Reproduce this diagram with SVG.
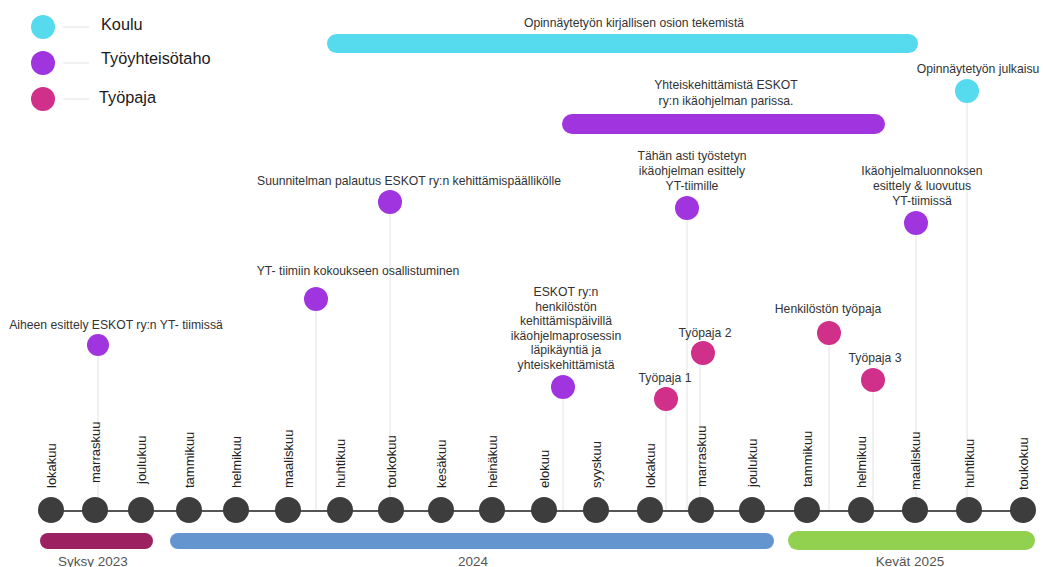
<svg xmlns="http://www.w3.org/2000/svg" width="1043" height="567" viewBox="0 0 1043 567">
<style>
text{font-family:"Liberation Sans",Arial,sans-serif;fill:#333}
.ev{font-size:12.2px;text-anchor:middle}
.mo{font-size:13px;fill:#222}
.lg{font-size:16.3px;fill:#1a1a1a}
.per{font-size:13.5px;fill:#555;text-anchor:middle}
.stem{stroke:#e2e2e2;stroke-width:1;fill:none}
.cy{fill:#55dbed}.pu{fill:#a035e0}.ma{fill:#d0308a}
.dk{fill:#3d3d3d}
</style>
<rect width="1043" height="567" fill="#fff"/>
<g id="legend">
<circle class="cy" cx="43" cy="27" r="12"/>
<circle class="pu" cx="43" cy="63" r="12"/>
<circle class="ma" cx="43" cy="99" r="12"/>
<path class="stem" d="M63 27H89M63 63H89M63 99H89"/>
<text class="lg" x="101" y="30">Koulu</text>
<text class="lg" x="101" y="64">Työyhteisötaho</text>
<text class="lg" x="99" y="103">Työpaja</text>
</g>
<g id="connectors">
<path class="stem" d="M98 345V511M316 299V511M390 202V511M563 387V511M687 208V511M666 399V511M700 352V511M829 333V511M873 380V511M916 223V511M967 91V511"/>
<line x1="51" y1="511" x2="1022" y2="511" stroke="#555" stroke-width="2"/>
</g>
<g id="bar-koulu">
<rect class="cy" x="327" y="34" width="591" height="19" rx="9.5"/>
<text class="ev" x="634" y="27">Opinnäytetyön kirjallisen osion tekemistä</text>
</g>
<g id="bar-yhteiskehittaminen">
<rect class="pu" x="562" y="114" width="323" height="20" rx="10"/>
<text class="ev" x="726" y="89">Yhteiskehittämistä ESKOT</text>
<text class="ev" x="726" y="105">ry:n ikäohjelman parissa.</text>
</g>
<g id="ev-julkaisu">
<circle class="cy" cx="967" cy="91" r="12"/>
<text class="ev" x="978" y="73">Opinnäytetyön julkaisu</text>
</g>
<g id="ev-aihe">
<circle class="pu" cx="98" cy="345" r="11"/>
<text class="ev" x="116" y="329">Aiheen esittely ESKOT ry:n YT- tiimissä</text>
</g>
<g id="ev-kokous">
<circle class="pu" cx="316" cy="299" r="12"/>
<text class="ev" x="358" y="275">YT- tiimiin kokoukseen osallistuminen</text>
</g>
<g id="ev-suunnitelma">
<circle class="pu" cx="390" cy="202" r="12"/>
<text class="ev" x="409" y="185">Suunnitelman palautus ESKOT ry:n kehittämispäällikölle</text>
</g>
<g id="ev-kehittamispaivat">
<circle class="pu" cx="563" cy="387" r="12"/>
<text class="ev" x="566" y="296">ESKOT ry:n</text>
<text class="ev" x="566" y="310.5">henkilöstön</text>
<text class="ev" x="566" y="325">kehittämispäivillä</text>
<text class="ev" x="566" y="339.5">ikäohjelmaprosessin</text>
<text class="ev" x="566" y="354">läpikäyntiä ja</text>
<text class="ev" x="566" y="368.5">yhteiskehittämistä</text>
</g>
<g id="ev-esittely">
<circle class="pu" cx="687" cy="208" r="12"/>
<text class="ev" x="692" y="160">Tähän asti työstetyn</text>
<text class="ev" x="692" y="175">ikäohjelman esittely</text>
<text class="ev" x="692" y="190">YT-tiimille</text>
</g>
<g id="ev-tyopaja1">
<circle class="ma" cx="666" cy="399" r="12"/>
<text class="ev" x="665" y="382">Työpaja 1</text>
</g>
<g id="ev-tyopaja2">
<circle class="ma" cx="703" cy="353" r="12"/>
<text class="ev" x="705" y="337">Työpaja 2</text>
</g>
<g id="ev-henkilosto">
<circle class="ma" cx="829" cy="333" r="12"/>
<text class="ev" x="828" y="313">Henkilöstön työpaja</text>
</g>
<g id="ev-tyopaja3">
<circle class="ma" cx="873" cy="380" r="12"/>
<text class="ev" x="875" y="362">Työpaja 3</text>
</g>
<g id="ev-luovutus">
<circle class="pu" cx="916" cy="223" r="12"/>
<text class="ev" x="922" y="175">Ikäohjelmaluonnoksen</text>
<text class="ev" x="922" y="190">esittely &amp; luovutus</text>
<text class="ev" x="922" y="205">YT-tiimissä</text>
</g>
<g id="months">
<circle class="dk" cx="51" cy="510" r="13"/>
<circle class="dk" cx="95" cy="510" r="13"/>
<circle class="dk" cx="141" cy="510" r="13"/>
<circle class="dk" cx="189" cy="510" r="13"/>
<circle class="dk" cx="236" cy="510" r="13"/>
<circle class="dk" cx="288" cy="510" r="13"/>
<circle class="dk" cx="340" cy="510" r="13"/>
<circle class="dk" cx="391" cy="510" r="13"/>
<circle class="dk" cx="441" cy="510" r="13"/>
<circle class="dk" cx="492" cy="510" r="13"/>
<circle class="dk" cx="544" cy="510" r="13"/>
<circle class="dk" cx="596" cy="510" r="13"/>
<circle class="dk" cx="650" cy="510" r="13"/>
<circle class="dk" cx="701" cy="510" r="13"/>
<circle class="dk" cx="752" cy="510" r="13"/>
<circle class="dk" cx="807" cy="510" r="13"/>
<circle class="dk" cx="861" cy="510" r="13"/>
<circle class="dk" cx="915" cy="510" r="13"/>
<circle class="dk" cx="969" cy="510" r="13"/>
<circle class="dk" cx="1023" cy="510" r="13"/>
<text class="mo" transform="translate(56,488) rotate(-90)">lokakuu</text>
<text class="mo" transform="translate(100,483) rotate(-90)">marraskuu</text>
<text class="mo" transform="translate(146,484) rotate(-90)">joulukuu</text>
<text class="mo" transform="translate(194,488) rotate(-90)">tammikuu</text>
<text class="mo" transform="translate(241,488) rotate(-90)">helmikuu</text>
<text class="mo" transform="translate(293,488) rotate(-90)">maaliskuu</text>
<text class="mo" transform="translate(345,488) rotate(-90)">huhtikuu</text>
<text class="mo" transform="translate(396,488) rotate(-90)">toukokuu</text>
<text class="mo" transform="translate(446,488) rotate(-90)">kesäkuu</text>
<text class="mo" transform="translate(497,488) rotate(-90)">heinäkuu</text>
<text class="mo" transform="translate(549,488) rotate(-90)">elokuu</text>
<text class="mo" transform="translate(601,488) rotate(-90)">syyskuu</text>
<text class="mo" transform="translate(655,488) rotate(-90)">lokakuu</text>
<text class="mo" transform="translate(706,487) rotate(-90)">marraskuu</text>
<text class="mo" transform="translate(757,487) rotate(-90)">joulukuu</text>
<text class="mo" transform="translate(812,487) rotate(-90)">tammikuu</text>
<text class="mo" transform="translate(866,488) rotate(-90)">helmikuu</text>
<text class="mo" transform="translate(920,490) rotate(-90)">maaliskuu</text>
<text class="mo" transform="translate(974,488) rotate(-90)">huhtikuu</text>
<text class="mo" transform="translate(1028,490) rotate(-90)">toukokuu</text>
</g>
<g id="periods">
<rect x="40" y="533" width="113" height="16" rx="8" fill="#9c2160"/>
<rect x="170" y="533" width="604" height="16" rx="8" fill="#6595cf"/>
<rect x="788" y="531" width="247" height="19" rx="9.5" fill="#92d050"/>
<text class="per" x="93" y="566">Syksy 2023</text>
<text class="per" x="473" y="566">2024</text>
<text class="per" x="910" y="566">Kevät 2025</text>
</g>
</svg>
